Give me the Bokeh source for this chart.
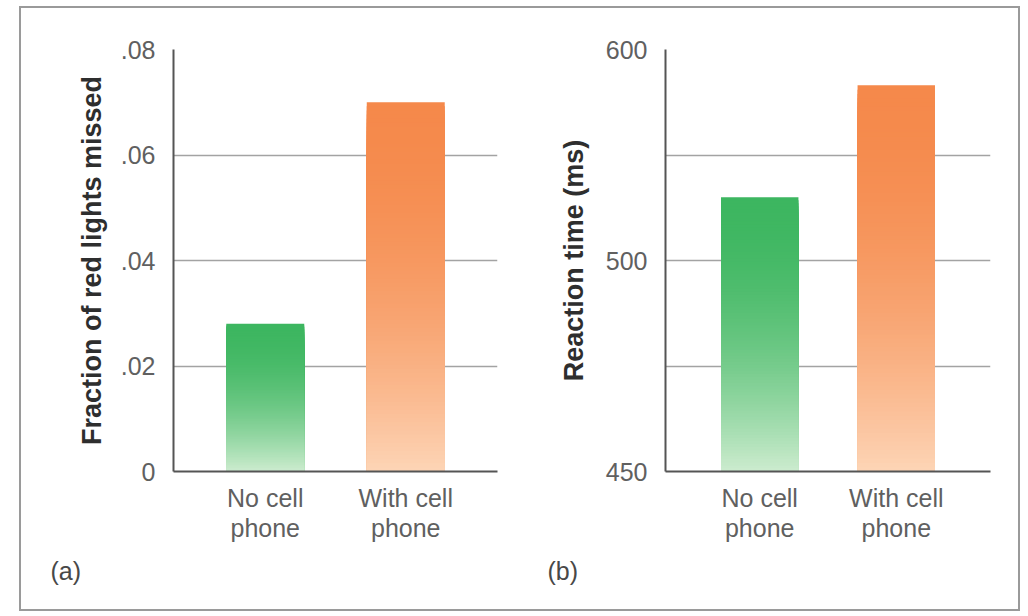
import numpy as np
from bokeh.plotting import figure
from bokeh.layouts import row
from bokeh.models import Range1d, FactorRange, FixedTicker, Title
from bokeh.embed import file_html
from bokeh.resources import INLINE

# ---------------- data ----------------
categories = ["No cell\nphone", "With cell\nphone"]
missed_fraction = [0.028, 0.070]
reaction_time_ms = [530, 583]

ticks_a = [0, 0.02, 0.04, 0.06, 0.08]
tick_labels_a = ["0", ".02", ".04", ".06", ".08"]
ticks_b = [400, 450, 500, 550, 600]
tick_labels_b = ["450", "", "500", "", "600"]

panel_letters = ["(a)", "(b)"]
y_titles = ["Fraction of red lights missed", "Reaction time (ms)"]

top_colors = ["#3db660", "#f5894b"]
bottom_colors = ["#cdeccf", "#fdd5b6"]

FONT = "Liberation Sans"
FIG_H = 601
LABEL_COLOR = "#606060"


def hex2rgb(h):
    h = h.lstrip("#")
    return np.array([int(h[i:i + 2], 16) for i in (0, 2, 4)], dtype=float)


def mix(c1, c2, w):
    a, b = hex2rgb(c1), hex2rgb(c2)
    c = a * (1 - w) + b * w
    return "#%02x%02x%02x" % tuple(int(round(v)) for v in c)


def make_panel(values, y_start, y_end, ticks, labels, title, title_standoff, letter,
               letter_offset, pad, bar_w, width, lb, rb, tb, bb):
    p = figure(
        x_range=FactorRange(*categories, range_padding=pad, range_padding_units="absolute"),
        y_range=Range1d(y_start, y_end),
        width=width, height=FIG_H,
        min_border_left=lb, min_border_right=rb, min_border_top=tb, min_border_bottom=bb,
        output_backend="svg", toolbar_location=None, tools="",
    )
    p.outline_line_color = None
    p.background_fill_color = "white"
    p.border_fill_color = "white"

    # gradient bars: nested bars from the base, tallest (darkest) drawn first
    n = 90
    xs, bots, tops, cols = [], [], [], []
    for i, (cat, v) in enumerate(zip(categories, values)):
        edges = np.linspace(y_start, v, n + 1)
        for k in range(n, 0, -1):
            t = 1 - (k - 0.5) / n  # 0 at top, 1 at bottom
            w = t ** 1.9
            xs.append(cat)
            bots.append(y_start)
            tops.append(edges[k])
            cols.append(mix(top_colors[i], bottom_colors[i], w))
    p.vbar(x=xs, bottom=bots, top=tops, width=bar_w,
           fill_color=cols, line_color=None)

    # y axis + grid
    p.xgrid.visible = False
    yax = p.yaxis[0]
    yax.ticker = FixedTicker(ticks=ticks)
    yax.major_label_overrides = dict(zip(ticks, labels))
    yax.axis_line_color = "#555555"
    yax.axis_line_width = 2
    yax.major_tick_line_color = None
    yax.minor_tick_line_color = None
    yax.major_label_text_font = FONT
    yax.major_label_text_font_size = "25px"
    yax.major_label_text_color = LABEL_COLOR
    yax.major_label_standoff = 12
    yax.axis_label = title
    yax.axis_label_text_font = FONT
    yax.axis_label_text_font_style = "bold"
    yax.axis_label_text_font_size = "27px"
    yax.axis_label_text_color = "#2e2e2e"
    yax.axis_label_standoff = title_standoff
    p.ygrid.grid_line_color = "#a3a3a3"
    p.ygrid.grid_line_width = 1.6

    # x axis with two-line category labels
    xax = p.xaxis[0]
    xax.axis_line_color = "#555555"
    xax.axis_line_width = 2
    xax.major_tick_line_color = None
    xax.minor_tick_line_color = None
    xax.major_label_text_font = FONT
    xax.major_label_text_font_size = "25px"
    xax.major_label_text_color = LABEL_COLOR
    xax.major_label_text_line_height = 1.1
    xax.major_label_standoff = 6

    # panel letter
    p.add_layout(Title(text=letter, align="left", offset=letter_offset, standoff=18,
                       text_font=FONT, text_font_size="25px", text_font_style="normal",
                       text_color="#484848"), "below")
    return p


p1 = make_panel(missed_fraction, 0, 0.08, ticks_a, tick_labels_a, y_titles[0], 11,
                panel_letters[0], -123, 0.153, 0.555, 498, 152, 22, 41, 138)
p2 = make_panel(reaction_time_ms, 400, 600, ticks_b, tick_labels_b, y_titles[1], 14,
                panel_letters[1], -118, 0.19, 0.567, 499, 146, 28, 41, 138)

layout = row(p1, p2, styles={"border": "2px solid #9a9a9a",
                             "margin-left": "19px", "margin-top": "6px"})

open("out.html", "w").write(file_html(layout, INLINE))
